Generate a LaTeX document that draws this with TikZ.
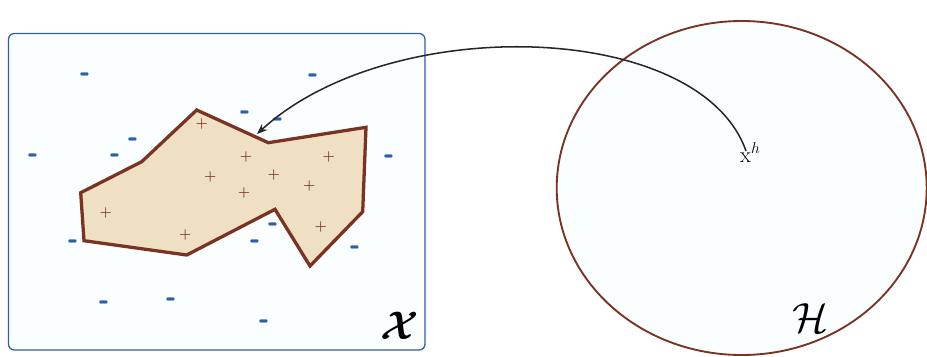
\documentclass[tikz,border=0pt]{standalone}
\usepackage{fix-cm}
\usepackage{amsmath,bm}
\usetikzlibrary{arrows.meta}
\definecolor{boxblue}{HTML}{2F5EA8}
\definecolor{setbrown}{HTML}{7A3322}
\definecolor{setfill}{HTML}{EFE0C4}
\definecolor{paper}{HTML}{FBFEFE}
\tikzset{
  plussign/.style={text=setbrown,inner sep=0pt,font=\fontsize{12}{12}\bfseries},
  minussign/.style={text=boxblue,inner sep=0pt,font=\fontsize{17}{17}\sffamily\bfseries},
}
\newcommand{\negmark}{\scalebox{1.4}[2.2]{-}}
\begin{document}
\begin{tikzpicture}[x=0.03cm,y=-0.03cm,>={Stealth[length=9pt,width=7pt]}]
    \useasboundingbox (0,0) rectangle (927,356);

    % Hypothesis space
    \fill[paper] (741.7,188) ellipse (185 and 167);
    \draw[setbrown,line width=1.6pt] (741.7,188) ellipse (185 and 167);
    \node (H) at (811,318) {\fontsize{36}{36}\selectfont$\mathcal{H}$};

    % Instance space
    \draw[boxblue,fill=paper,line width=1.1pt,rounded corners=5] (8.5,33.5) rectangle (425,350);
    \node (X) at (400,326) {\fontsize{34}{34}\selectfont$\bm{\mathcal{X}}$};

    % Target region
    \draw[setbrown,fill=setfill,line width=2.8pt,line join=miter]
      (196.7,110) -- (268.3,142.7) -- (366,127.3) -- (362.7,211.7)
      -- (310,266) -- (275,209.3) -- (186.7,255) -- (84,240.7)
      -- (80.7,192.7) -- (141.7,161.7) -- cycle;

    % Positive examples
    \foreach \px/\py [count=\i] in {201.7/124, 246/156.7, 328.7/156.7, 210.3/176.7,
        273.7/175, 244/192.7, 309.3/186, 105.7/212.7, 320.7/227.3, 185.3/235}
      \node[plussign] (p\i) at (\px,\py) {+};

    % Negative examples
    \foreach \mx/\my [count=\i] in {86/79, 314/80, 246/117, 278.7/124, 133.7/144,
        33.7/159.7, 115.3/159.7, 390/160.7, 74/246, 273.7/229, 255.7/246,
        355.7/251.7, 104.3/306.7, 172/304, 264.3/325.7}
      \node[minussign] (m\i) at (\mx,\my) {\negmark};

    % Hypothesis h and its mapping
    \node[anchor=base west,inner sep=0pt] (xh) at (740,162)
      {\fontsize{19}{19}\selectfont$\mathrm{x}^{h}$};
    \coordinate (hstart) at (746,151);
    \coordinate (target) at (257,134);
    \draw[->,line width=1.3pt,black!85] (hstart) .. controls (700,20) and (390,12) .. (target);
\end{tikzpicture}
\end{document}
